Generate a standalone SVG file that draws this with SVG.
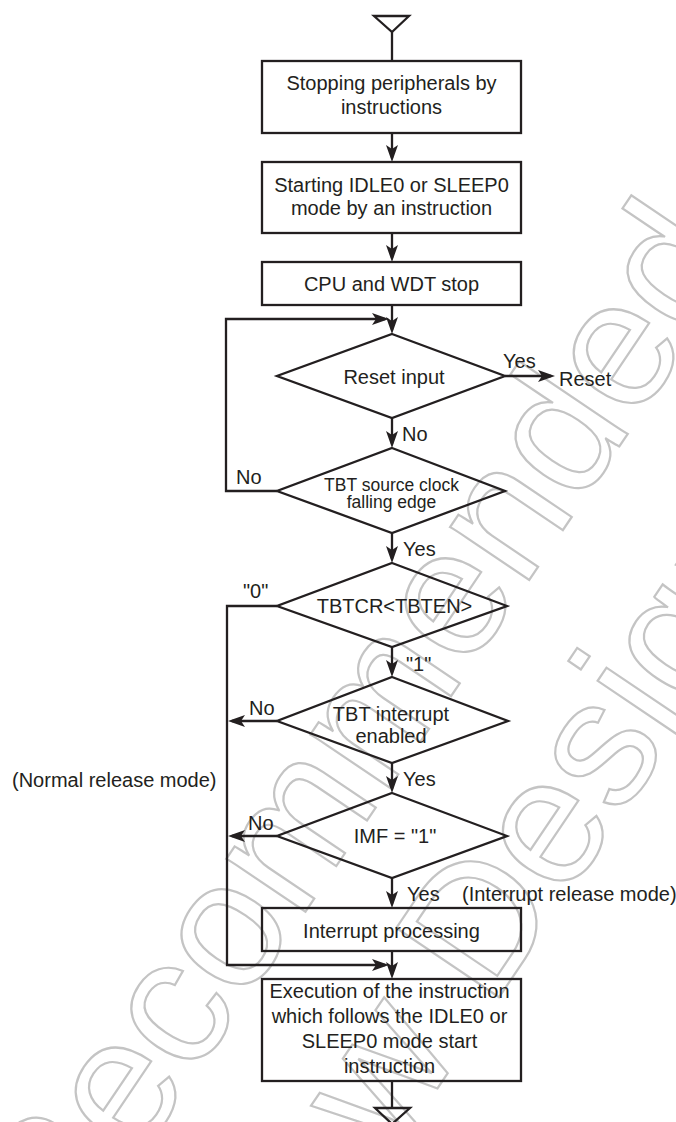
<svg xmlns="http://www.w3.org/2000/svg" width="676" height="1122" viewBox="0 0 676 1122">
<style>
.wm{font-family:"Liberation Sans",Arial,sans-serif;font-size:180px;fill:none;stroke:#c4c4c4;stroke-width:2.2}
.shape{fill:none;stroke:#231f20;stroke-width:2.3}
.ln{fill:none;stroke:#231f20;stroke-width:2.3}
.t{font-family:"Liberation Sans",Arial,sans-serif;font-size:20px;fill:#231f20;text-anchor:middle}
.s{font-family:"Liberation Sans",Arial,sans-serif;font-size:17.5px;fill:#231f20;text-anchor:middle}
.l{font-family:"Liberation Sans",Arial,sans-serif;font-size:20px;fill:#231f20}
</style>
<defs>
<marker id="ah" markerUnits="userSpaceOnUse" markerWidth="18" markerHeight="12" refX="13" refY="6" orient="auto">
<path d="M0,0 L17,6 L0,12 L4,6 Z" fill="#231f20"/>
</marker>
</defs>
<rect width="676" height="1122" fill="#ffffff"/>
<g id="watermark">
<text class="wm" transform="translate(-121,1544) rotate(-56)">Not Recommended</text>
<text class="wm" transform="translate(116,1565) rotate(-56)">for New Design</text>
</g>
<g id="connectors">
<polygon class="shape" points="374,16 409,16 392,32"/>
<line class="ln" x1="392" y1="32" x2="392" y2="61"/>
<line class="ln" x1="392" y1="133" x2="392" y2="158" marker-end="url(#ah)"/>
<line class="ln" x1="392" y1="233" x2="392" y2="258" marker-end="url(#ah)"/>
<line class="ln" x1="392" y1="305" x2="392" y2="330" marker-end="url(#ah)"/>
<polyline class="ln" points="277,491 226,491 226,319 385,319" marker-end="url(#ah)"/>
<line class="ln" x1="505" y1="376" x2="551" y2="376" marker-end="url(#ah)"/>
<line class="ln" x1="392" y1="418" x2="392" y2="444" marker-end="url(#ah)"/>
<line class="ln" x1="392" y1="533" x2="392" y2="559" marker-end="url(#ah)"/>
<polyline class="ln" points="277,606 227,606 227,965 385,965" marker-end="url(#ah)"/>
<line class="ln" x1="392" y1="647" x2="392" y2="673" marker-end="url(#ah)"/>
<line class="ln" x1="277" y1="721" x2="232" y2="721" marker-end="url(#ah)"/>
<line class="ln" x1="392" y1="763" x2="392" y2="789" marker-end="url(#ah)"/>
<line class="ln" x1="277" y1="836" x2="232" y2="836" marker-end="url(#ah)"/>
<line class="ln" x1="392" y1="878" x2="392" y2="904" marker-end="url(#ah)"/>
<line class="ln" x1="392" y1="951" x2="392" y2="975" marker-end="url(#ah)"/>
<line class="ln" x1="392" y1="1081" x2="392" y2="1108"/>
<polygon class="shape" points="375,1108 410,1108 392,1124"/>
<text class="l" x="503" y="368">Yes</text>
<text class="l" x="559" y="386">Reset</text>
<text class="l" x="402" y="441">No</text>
<text class="l" x="236" y="484">No</text>
<text class="l" x="403" y="556">Yes</text>
<text class="l" x="243" y="598">"0"</text>
<text class="l" x="406" y="671">"1"</text>
<text class="l" x="249" y="715">No</text>
<text class="l" x="403" y="786">Yes</text>
<text class="l" x="248" y="830">No</text>
<text class="l" x="407" y="901">Yes</text>
<text class="l" x="462" y="901">(Interrupt release mode)</text>
<text class="l" x="12" y="787">(Normal release mode)</text>
</g>
<g id="n1">
<rect class="shape" x="262" y="61" width="259" height="72"/>
<text class="t" x="391.5" y="90">Stopping peripherals by</text>
<text class="t" x="391.5" y="114">instructions</text>
</g>
<g id="n2">
<rect class="shape" x="262" y="162" width="259" height="71"/>
<text class="t" x="391.5" y="192">Starting IDLE0 or SLEEP0</text>
<text class="t" x="391.5" y="215">mode by an instruction</text>
</g>
<g id="n3">
<rect class="shape" x="262" y="262" width="259" height="43"/>
<text class="t" x="391.5" y="291">CPU and WDT stop</text>
</g>
<g id="d1">
<polygon class="shape" points="392,334 505,376 392,418 277,376"/>
<text class="t" x="394" y="384">Reset input</text>
</g>
<g id="d2">
<polygon class="shape" points="392,448 505,491 392,533 277,491"/>
<text class="s" x="391.5" y="491">TBT source clock</text>
<text class="s" x="391.5" y="508">falling edge</text>
</g>
<g id="d3">
<polygon class="shape" points="392,563 507,606 392,647 277,606"/>
<text class="t" x="394.5" y="613">TBTCR&lt;TBTEN&gt;</text>
</g>
<g id="d4">
<polygon class="shape" points="392,677 508,721 392,763 277,721"/>
<text class="t" x="391" y="721">TBT interrupt</text>
<text class="t" x="391" y="743">enabled</text>
</g>
<g id="d5">
<polygon class="shape" points="392,793 507,836 392,878 277,836"/>
<text class="t" x="395" y="843">IMF = "1"</text>
</g>
<g id="n5">
<rect class="shape" x="262" y="908" width="259" height="43"/>
<text class="t" x="391.5" y="938">Interrupt processing</text>
</g>
<g id="n6">
<rect class="shape" x="262" y="979" width="259" height="102"/>
<text class="t" x="389.5" y="998">Execution of the instruction</text>
<text class="t" x="389.5" y="1023">which follows the IDLE0 or</text>
<text class="t" x="389.5" y="1048">SLEEP0 mode start</text>
<text class="t" x="389.5" y="1073">instruction</text>
</g>
</svg>
